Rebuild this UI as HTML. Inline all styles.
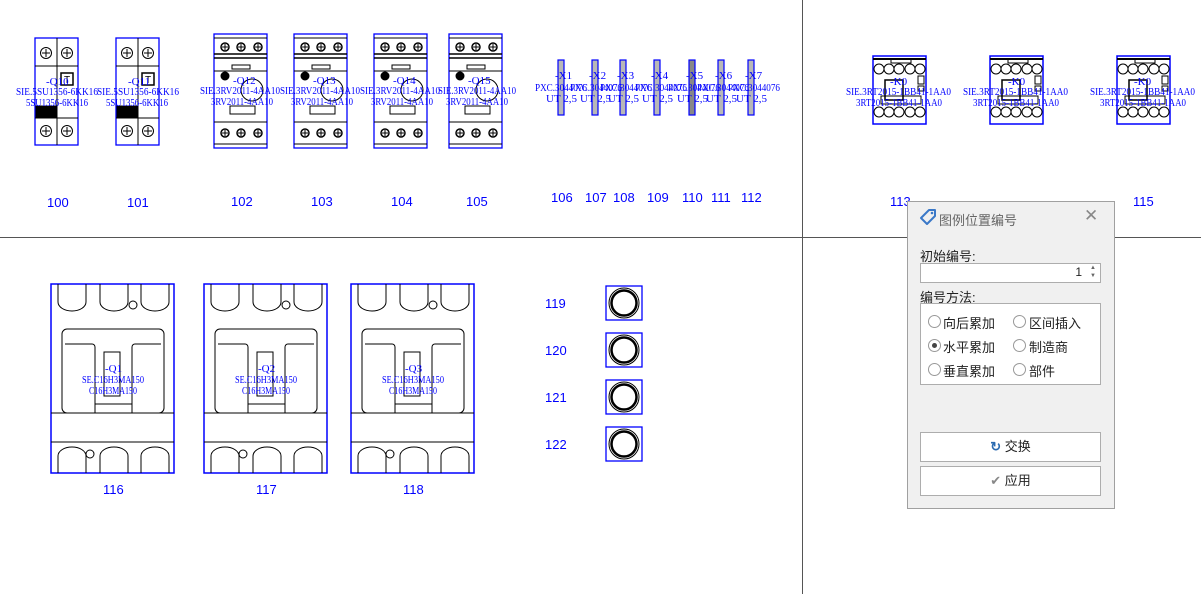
<!DOCTYPE html>
<html><head><meta charset="utf-8"><style>
body{margin:0;background:#fff;width:1201px;height:594px;overflow:hidden;position:relative;font-family:"Liberation Sans","Noto Sans CJK SC",sans-serif}
svg{position:absolute;left:0;top:0}
.t{font-family:"Liberation Serif","Noto Serif CJK SC",serif;font-size:11px;fill:#0000ff}
.n{font-family:"Liberation Sans",sans-serif;font-size:13px;fill:#0000ff}
.dlg{position:absolute;left:907px;top:201px;width:206px;height:306px;background:#f0f0f0;border:1px solid #a0a0a0;font-size:13px;color:#222}
.dlg div{position:absolute}
.box{background:#fff;border:1px solid #adadad}
.r{width:11px;height:11px;border:1px solid #999;border-radius:50%;background:#fff}
</style></head><body>
<svg width="1201" height="594" viewBox="0 0 1201 594">
<defs>
<g id="cp"><circle r="5.5" fill="none" stroke="#000"/><path d="M-4 0H4M0-4V4" stroke="#000"/></g>
<g id="mcb" fill="none" stroke="#000">
<rect x="0" y="0" width="43" height="107" stroke="#00f" stroke-width="1.3"/>
<line x1="22" y1="0" x2="22" y2="107"/>
<use href="#cp" x="11" y="15"/><use href="#cp" x="32" y="15"/>
<use href="#cp" x="11" y="93"/><use href="#cp" x="32" y="93"/>
<rect x="1" y="68" width="20" height="11" fill="#000"/>
<rect x="26" y="35" width="12" height="12" stroke-width="1.5"/>
<text x="29" y="45" font-size="10" fill="#000" stroke="none" font-family="Liberation Sans">T</text>
<line x1="0" y1="80" x2="43" y2="80"/><line x1="0" y1="28" x2="43" y2="28"/>
</g>
<g id="ter"><circle r="4" fill="none" stroke="#000" stroke-width="1.5"/><path d="M-3 0H3M0-3V3" stroke="#000"/></g>
<g id="mb" fill="none" stroke="#000">
<rect x="0" y="0" width="53" height="114" stroke="#00f" stroke-width="1.3"/>
<line x1="0" y1="4" x2="53" y2="4"/><line x1="0" y1="110" x2="53" y2="110"/>
<use href="#ter" x="11" y="13"/><use href="#ter" x="27" y="13"/><use href="#ter" x="44" y="13"/>
<line x1="0" y1="20" x2="53" y2="20" stroke-width="1.5"/><line x1="0" y1="24" x2="53" y2="24" stroke-width="1.5"/>
<rect x="18" y="31" width="18" height="4"/><line x1="0" y1="37" x2="53" y2="37"/>
<circle cx="11" cy="42" r="4" fill="#000"/>
<circle cx="38" cy="56" r="11"/>
<rect x="16" y="72" width="25" height="8"/>
<line x1="0" y1="88" x2="53" y2="88"/>
<use href="#ter" x="11" y="99"/><use href="#ter" x="27" y="99"/><use href="#ter" x="44" y="99"/>
</g>
<g id="ct" fill="none" stroke="#000">
<rect x="0" y="0" width="53" height="68" stroke="#00f" stroke-width="1.5"/>
<line x1="0" y1="3" x2="53" y2="3" stroke-width="2"/>
<rect x="18" y="3" width="20" height="4"/>
<circle cx="6" cy="13" r="5"/><circle cx="16" cy="13" r="5"/><circle cx="26" cy="13" r="5"/><circle cx="37" cy="13" r="5"/><circle cx="47" cy="13" r="5"/>
<circle cx="6" cy="56" r="5"/><circle cx="16" cy="56" r="5"/><circle cx="26" cy="56" r="5"/><circle cx="37" cy="56" r="5"/><circle cx="47" cy="56" r="5"/>
<rect x="12" y="24" width="18" height="20" stroke-width="1.5"/>
<rect x="45" y="20" width="6" height="8"/><rect x="45" y="30" width="6" height="5"/>
<rect x="8" y="40" width="40" height="8"/>
</g>
<g id="mc" fill="none" stroke="#000">
<rect x="0" y="0" width="123" height="189" stroke="#00f" stroke-width="1.5"/>
<path d="M7 0V18a14 9 0 0 0 28 0V0M49 0V18a14 9 0 0 0 28 0V0M90 0V18a14 9 0 0 0 28 0V0"/>
<circle cx="82" cy="21" r="4"/>
<rect x="11" y="45" width="102" height="84" rx="5"/>
<path d="M44 129V63a3 3 0 0 0-3-3H14M81 129V63a3 3 0 0 1 3-3h26"/>
<path d="M44 120H81"/>
<rect x="53" y="68" width="16" height="44"/>
<line x1="0" y1="129" x2="123" y2="129"/><line x1="0" y1="158" x2="123" y2="158"/>
<path d="M7 189V172a14 9 0 0 1 28 0V189M49 189V172a14 9 0 0 1 28 0V189M90 189V172a14 9 0 0 1 28 0V189"/>
<circle cx="39" cy="170" r="4"/>
</g>
<g id="lp"><rect x="0" y="0" width="36" height="34" fill="none" stroke="#00f" stroke-width="1.3"/><circle cx="18" cy="17" r="15" fill="none" stroke="#000" stroke-width="1"/><circle cx="18" cy="17" r="12.5" fill="none" stroke="#000" stroke-width="2.5"/></g>
</defs>
<line x1="0" y1="237.5" x2="1201" y2="237.5" stroke="#555"/>
<line x1="802.5" y1="0" x2="802.5" y2="594" stroke="#555"/>

<use href="#mcb" x="35" y="38"/><use href="#mcb" x="116" y="38"/>
<text class="t" x="46" y="85">-Q10</text><text class="t" x="16" y="95" textLength="82" lengthAdjust="spacingAndGlyphs">SIE.5SU1356-6KK16</text><text class="t" x="26" y="106" textLength="62" lengthAdjust="spacingAndGlyphs">5SU1356-6KK16</text>
<text class="t" x="128" y="85">-Q11</text><text class="t" x="97" y="95" textLength="82" lengthAdjust="spacingAndGlyphs">SIE.5SU1356-6KK16</text><text class="t" x="106" y="106" textLength="62" lengthAdjust="spacingAndGlyphs">5SU1356-6KK16</text>
<text class="n" x="47" y="207">100</text><text class="n" x="127" y="207">101</text>

<use href="#mb" x="214" y="34"/><use href="#mb" x="294" y="34"/><use href="#mb" x="374" y="34"/><use href="#mb" x="449" y="34"/>
<text class="t" x="233" y="84">-Q12</text><text class="t" x="200" y="94" textLength="80" lengthAdjust="spacingAndGlyphs">SIE.3RV2011-4AA10</text><text class="t" x="211" y="105" textLength="62" lengthAdjust="spacingAndGlyphs">3RV2011-4AA10</text>
<text class="t" x="313" y="84">-Q13</text><text class="t" x="280" y="94" textLength="80" lengthAdjust="spacingAndGlyphs">SIE.3RV2011-4AA10</text><text class="t" x="291" y="105" textLength="62" lengthAdjust="spacingAndGlyphs">3RV2011-4AA10</text>
<text class="t" x="393" y="84">-Q14</text><text class="t" x="360" y="94" textLength="80" lengthAdjust="spacingAndGlyphs">SIE.3RV2011-4AA10</text><text class="t" x="371" y="105" textLength="62" lengthAdjust="spacingAndGlyphs">3RV2011-4AA10</text>
<text class="t" x="468" y="84">-Q15</text><text class="t" x="438" y="94" textLength="78" lengthAdjust="spacingAndGlyphs">SIE.3RV2011-4AA10</text><text class="t" x="446" y="105" textLength="62" lengthAdjust="spacingAndGlyphs">3RV2011-4AA10</text>
<text class="n" x="231" y="206">102</text><text class="n" x="311" y="206">103</text><text class="n" x="391" y="206">104</text><text class="n" x="466" y="206">105</text>

<g stroke="#00f" stroke-width="1.2" fill="#b8b8b8">
<rect x="558" y="60" width="6" height="55"/><rect x="592" y="60" width="6" height="55"/><rect x="620" y="60" width="6" height="55"/><rect x="654" y="60" width="6" height="55"/><rect x="689" y="60" width="6" height="55" fill="#888"/><rect x="718" y="60" width="6" height="55"/><rect x="748" y="60" width="6" height="55"/>
</g>
<g class="t">
<text x="555" y="79">-X1</text><text x="589" y="79">-X2</text><text x="617" y="79">-X3</text><text x="651" y="79">-X4</text><text x="686" y="79">-X5</text><text x="715" y="79">-X6</text><text x="745" y="79">-X7</text>
<text x="535" y="91" textLength="52" lengthAdjust="spacingAndGlyphs">PXC.3044076</text><text x="570" y="91" textLength="52" lengthAdjust="spacingAndGlyphs">PXC.3044076</text><text x="600" y="91" textLength="52" lengthAdjust="spacingAndGlyphs">PXC.3044076</text><text x="635" y="91" textLength="52" lengthAdjust="spacingAndGlyphs">PXC.3044076</text><text x="668" y="91" textLength="52" lengthAdjust="spacingAndGlyphs">PXC.3044076</text><text x="697" y="91" textLength="52" lengthAdjust="spacingAndGlyphs">PXC.3044076</text><text x="728" y="91" textLength="52" lengthAdjust="spacingAndGlyphs">PXC.3044076</text>
<text x="546" y="102">UT 2,5</text><text x="580" y="102">UT 2,5</text><text x="608" y="102">UT 2,5</text><text x="642" y="102">UT 2,5</text><text x="677" y="102">UT 2,5</text><text x="706" y="102">UT 2,5</text><text x="736" y="102">UT 2,5</text>
</g>
<g class="n"><text x="551" y="202">106</text><text x="585" y="202">107</text><text x="613" y="202">108</text><text x="647" y="202">109</text><text x="682" y="202">110</text><text x="711" y="202">111</text><text x="741" y="202">112</text></g>

<use href="#ct" x="873" y="56"/><use href="#ct" x="990" y="56"/><use href="#ct" x="1117" y="56"/>
<text class="t" x="890" y="85">-K0</text><text class="t" x="846" y="95" textLength="105" lengthAdjust="spacingAndGlyphs">SIE.3RT2015-1BB41-1AA0</text><text class="t" x="856" y="106" textLength="86" lengthAdjust="spacingAndGlyphs">3RT2015-1BB41-1AA0</text>
<text class="t" x="1008" y="85">-K0</text><text class="t" x="963" y="95" textLength="105" lengthAdjust="spacingAndGlyphs">SIE.3RT2015-1BB41-1AA0</text><text class="t" x="973" y="106" textLength="86" lengthAdjust="spacingAndGlyphs">3RT2015-1BB41-1AA0</text>
<text class="t" x="1134" y="85">-K0</text><text class="t" x="1090" y="95" textLength="105" lengthAdjust="spacingAndGlyphs">SIE.3RT2015-1BB41-1AA0</text><text class="t" x="1100" y="106" textLength="86" lengthAdjust="spacingAndGlyphs">3RT2015-1BB41-1AA0</text>
<text class="n" x="890" y="206">113</text><text class="n" x="1133" y="206">115</text>

<use href="#mc" x="51" y="284"/><use href="#mc" x="204" y="284"/><use href="#mc" x="351" y="284"/>
<text class="t" x="105" y="372">-Q1</text><text class="t" x="82" y="383" textLength="62" lengthAdjust="spacingAndGlyphs">SE.C16H3MA150</text><text class="t" x="89" y="394" textLength="48" lengthAdjust="spacingAndGlyphs">C16H3MA150</text>
<text class="t" x="258" y="372">-Q2</text><text class="t" x="235" y="383" textLength="62" lengthAdjust="spacingAndGlyphs">SE.C16H3MA150</text><text class="t" x="242" y="394" textLength="48" lengthAdjust="spacingAndGlyphs">C16H3MA150</text>
<text class="t" x="405" y="372">-Q3</text><text class="t" x="382" y="383" textLength="62" lengthAdjust="spacingAndGlyphs">SE.C16H3MA150</text><text class="t" x="389" y="394" textLength="48" lengthAdjust="spacingAndGlyphs">C16H3MA150</text>
<text class="n" x="103" y="494">116</text><text class="n" x="256" y="494">117</text><text class="n" x="403" y="494">118</text>

<use href="#lp" x="606" y="286"/><use href="#lp" x="606" y="333"/><use href="#lp" x="606" y="380"/><use href="#lp" x="606" y="427"/>
<g class="n"><text x="545" y="308">119</text><text x="545" y="355">120</text><text x="545" y="402">121</text><text x="545" y="449">122</text></g>
</svg>
<div class="dlg">
<svg width="20" height="20" style="left:10px;top:6px" viewBox="0 0 20 20"><path d="M3 10L11 2H17V8L9 16Z" fill="none" stroke="#3a78c8" stroke-width="2" stroke-linejoin="round"/><circle cx="14" cy="5" r="1.3" fill="#3a78c8"/></svg>
<div style="left:31px;top:8px;color:#666;font-size:13px">图例位置编号</div>
<div style="left:176px;top:4px;color:#888;font-size:17px">✕</div>
<div style="left:12px;top:44px">初始编号:</div>
<div class="box" style="left:12px;top:61px;width:179px;height:18px"><span style="position:absolute;right:18px;top:1px;font-family:'Liberation Sans';font-size:12px">1</span><span style="position:absolute;right:4px;top:0;font-size:6px;color:#666;line-height:8px">▲<br>▼</span></div>
<div style="left:12px;top:85px">编号方法:</div>
<div class="box" style="left:12px;top:101px;width:179px;height:80px">
<div class="r" style="left:7px;top:11px"></div><div style="left:22px;top:9px">向后累加</div>
<div class="r" style="left:92px;top:11px"></div><div style="left:108px;top:9px">区间插入</div>
<div class="r" style="left:7px;top:35px"><div style="left:3px;top:3px;width:5px;height:5px;border-radius:50%;background:#444"></div></div><div style="left:22px;top:33px">水平累加</div>
<div class="r" style="left:92px;top:35px"></div><div style="left:108px;top:33px">制造商</div>
<div class="r" style="left:7px;top:59px"></div><div style="left:22px;top:57px">垂直累加</div>
<div class="r" style="left:92px;top:59px"></div><div style="left:108px;top:57px">部件</div>
</div>
<div class="box" style="left:12px;top:230px;width:179px;height:28px;text-align:center;line-height:28px"><span style="color:#2a6ab0;font-weight:bold">↻</span> 交换</div>
<div class="box" style="left:12px;top:264px;width:179px;height:28px;text-align:center;line-height:28px"><span style="color:#888">✔</span> 应用</div>
</div>
</body></html>
